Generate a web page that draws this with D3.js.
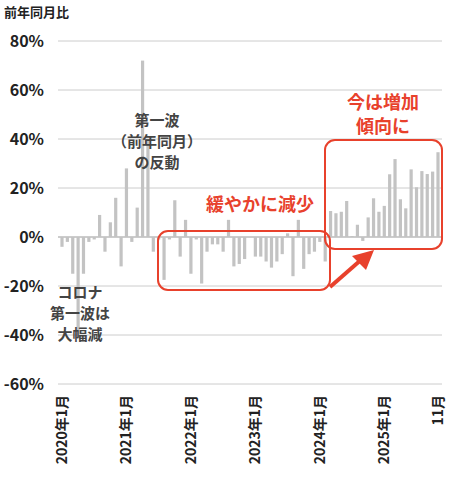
<!DOCTYPE html>
<html><head><meta charset="utf-8">
<script src="https://cdn.jsdelivr.net/npm/d3@7"></script>
<style>body{margin:0;background:#fff}text{font-family:"Noto Sans CJK JP",sans-serif}</style>
</head><body>
<script>
// monthly YoY change, 2020-01 .. 2025-11
var values = [-4,-2,-15,-41,-15,-2,-1,9,-6,6,16,-12,
  28,-2,12,72,40,-6,-1,-17.5,-1,15,-8,7,
  -15,-1,-19,-6,-3,-3,-6,7,-12,-11,-9,0,
  -8,-8,-10,-12.5,-10,-7,1.5,-16,7,-13,-7,-6,
  -2,-10,10.6,9.7,10.3,14.7,0.4,5,-1.6,8,15.8,10.3,
  12.7,25.6,31.8,15.4,11.7,27.6,20.3,26.9,25.7,26.7,34.6];
var yTicks = [80,60,40,20,0,-20,-40,-60];
var xLabels = [[0,"2020年1月"],[12,"2021年1月"],[24,"2022年1月"],[36,"2023年1月"],[48,"2024年1月"],[60,"2025年1月"],[70,"11月"]];

var svg = d3.select("body").append("svg").attr("width",450).attr("height",484);
var x = d3.scaleLinear().domain([0,70]).range([62,438]);
var y = d3.scaleLinear().domain([-60,80]).range([384,41]);

svg.selectAll(".grid").data(yTicks).enter().append("line")
  .attr("x1",58).attr("x2",442).attr("y1",d=>y(d)).attr("y2",d=>y(d))
  .attr("stroke",d=>d==0?"#999":"#ccc").attr("stroke-width",1);
svg.selectAll(".yl").data(yTicks).enter().append("text")
  .attr("x",44).attr("y",d=>y(d)+6).attr("text-anchor","end")
  .attr("font-size",16).attr("font-weight","bold").attr("fill","#222")
  .text(d=>d+"%");
svg.append("text").attr("x",4).attr("y",17).attr("font-size",13).attr("font-weight","bold").attr("fill","#222").text("前年同月比");

svg.selectAll("rect.bar").data(values).enter().append("rect")
  .attr("x",(d,i)=>x(i)-1.6).attr("width",3.2)
  .attr("y",d=>y(Math.max(0,d))).attr("height",d=>Math.abs(y(d)-y(0)))
  .attr("fill","#c3c3c3");

svg.selectAll(".xl").data(xLabels).enter().append("text")
  .attr("transform",d=>"translate("+(x(d[0])+5)+",395) rotate(-90)")
  .attr("text-anchor","end").attr("font-size",14).attr("font-weight","bold").attr("fill","#222")
  .text(d=>d[1]);

function lines(arr,cx,cy,dy,size,color){
  arr.forEach((t,i)=>svg.append("text").attr("x",cx).attr("y",cy+i*dy).attr("text-anchor","middle")
    .attr("font-size",size).attr("font-weight","bold").attr("fill",color).text(t));
}
lines(["第一波","（前年同月）","の反動"],157,126,21,15,"#444");
lines(["コロナ","第一波は","大幅減"],80,298,21,15,"#444");

var red="#e8412c";
svg.append("rect").attr("x",158).attr("y",231).attr("width",172).attr("height",59).attr("rx",10)
  .attr("fill","none").attr("stroke",red).attr("stroke-width",2);
svg.append("rect").attr("x",325).attr("y",140).attr("width",117).attr("height",109).attr("rx",10)
  .attr("fill","none").attr("stroke",red).attr("stroke-width",2);
lines(["緩やかに減少"],260,211,0,18,red);
lines(["今は増加","傾向に"],383,109,24,18,red);
svg.append("line").attr("x1",330).attr("y1",287).attr("x2",362).attr("y2",259)
  .attr("stroke",red).attr("stroke-width",4);
svg.append("path").attr("d","M374,250 L352,256 L366,270 Z").attr("fill",red);
</script>
</body></html>
